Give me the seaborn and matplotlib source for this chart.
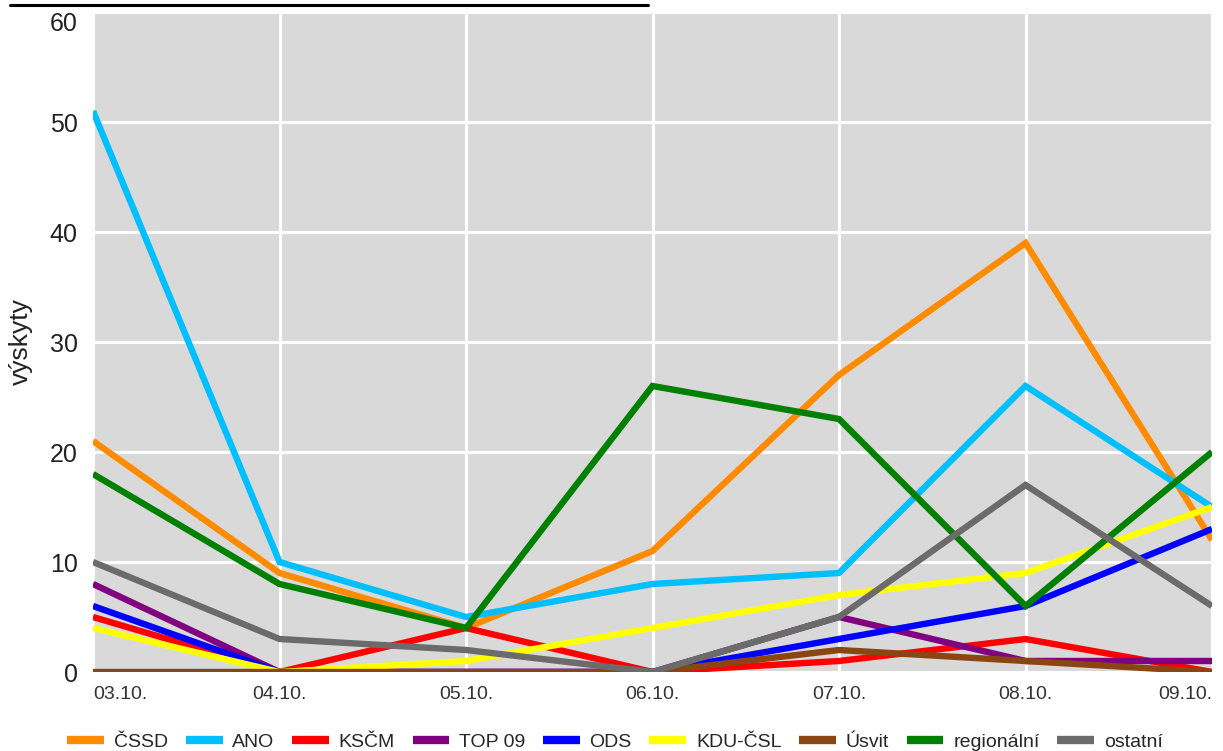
import matplotlib
matplotlib.use("Agg")
import matplotlib.pyplot as plt
from matplotlib.lines import Line2D
import seaborn as sns
import pandas as pd

days = ["03.10.", "04.10.", "05.10.", "06.10.", "07.10.", "08.10.", "09.10."]
parties = ["ČSSD", "ANO", "KSČM", "TOP 09", "ODS", "KDU-ČSL", "Úsvit", "regionální", "ostatní"]

cssd = [21, 9, 4, 11, 27, 39, 12]
ano = [51, 10, 5, 8, 9, 26, 15]
kscm = [5, 0, 4, 0, 1, 3, 0]
top09 = [8, 0, 0, 0, 5, 1, 1]
ods = [6, 0, 0, 0, 3, 6, 13]
kdu = [4, 0, 1, 4, 7, 9, 15]
usvit = [0, 0, 0, 0, 2, 1, 0]
regionalni = [18, 8, 4, 26, 23, 6, 20]
ostatni = [10, 3, 2, 0, 5, 17, 6]

colors = ["#ff8c00", "#00bfff", "#ff0000", "#800080", "#0000ff",
          "#ffff00", "#8b4513", "#008000", "#6b6b6b"]

series = [cssd, ano, kscm, top09, ods, kdu, usvit, regionalni, ostatni]
rows = []
for name, vals in zip(parties, series):
	for i, v in enumerate(vals):
		rows.append((i, v, name))
df = pd.DataFrame(rows, columns=["den", "výskyty", "strana"])

sns.set_style("darkgrid", {"axes.facecolor": "#d9d9d9", "grid.color": "white",
                           "axes.edgecolor": "#d9d9d9"})
plt.rcParams['font.family'] = ['Liberation Sans', 'DejaVu Sans']
plt.rcParams['grid.linewidth'] = 2.2

fig = plt.figure(figsize=(12.23, 7.51), dpi=100)
ax = fig.add_axes([93/1223, 79/751, 1119/1223, 660/751])

sns.lineplot(data=df, x="den", y="výskyty", hue="strana", hue_order=parties,
             palette=colors, linewidth=4.6, sort=False, ax=ax, legend=False)
for ln in ax.get_lines():
	ln.set_solid_joinstyle("miter")
	ln.set_solid_capstyle("butt")

ax.set_xlim(0, 6)
ax.set_ylim(0, 60)
ax.set_xticks(range(len(days)))
ax.set_xticklabels(days, fontsize=14, color="#333333")
ax.set_yticks(range(0, 61, 10))
ax.set_yticklabels([str(v) for v in range(0, 61, 10)], fontsize=18, color="#222222")
labs = ax.get_xticklabels()
labs[0].set_ha("left")
labs[-1].set_ha("right")
ax.get_yticklabels()[-1].set_va("top")
ax.tick_params(axis="x", length=0, pad=10)
ax.tick_params(axis="y", length=0, pad=11)
ax.set_xlabel("")
ax.set_ylabel("")
for s in ax.spines.values():
	s.set_visible(False)

fig.text(21/1223, 1 - 342/751, "výskyty", rotation=90, ha="center", va="center",
         fontsize=19, color="#222222")

handles = [Line2D([], [], color=c, linewidth=6, solid_capstyle="butt") for c in colors]
fig.legend(handles, parties, loc="center", bbox_to_anchor=(615/1223, 1 - 742/751),
           ncol=9, frameon=False, fontsize=14, handlelength=1.9, handletextpad=0.5,
           columnspacing=0.9, borderpad=0, borderaxespad=0)

fig.add_artist(Line2D([10/1223, 648/1223], [1 - 5/751, 1 - 5/751],
                      color="black", linewidth=2.2))

fig.savefig("out.png", dpi=100)
